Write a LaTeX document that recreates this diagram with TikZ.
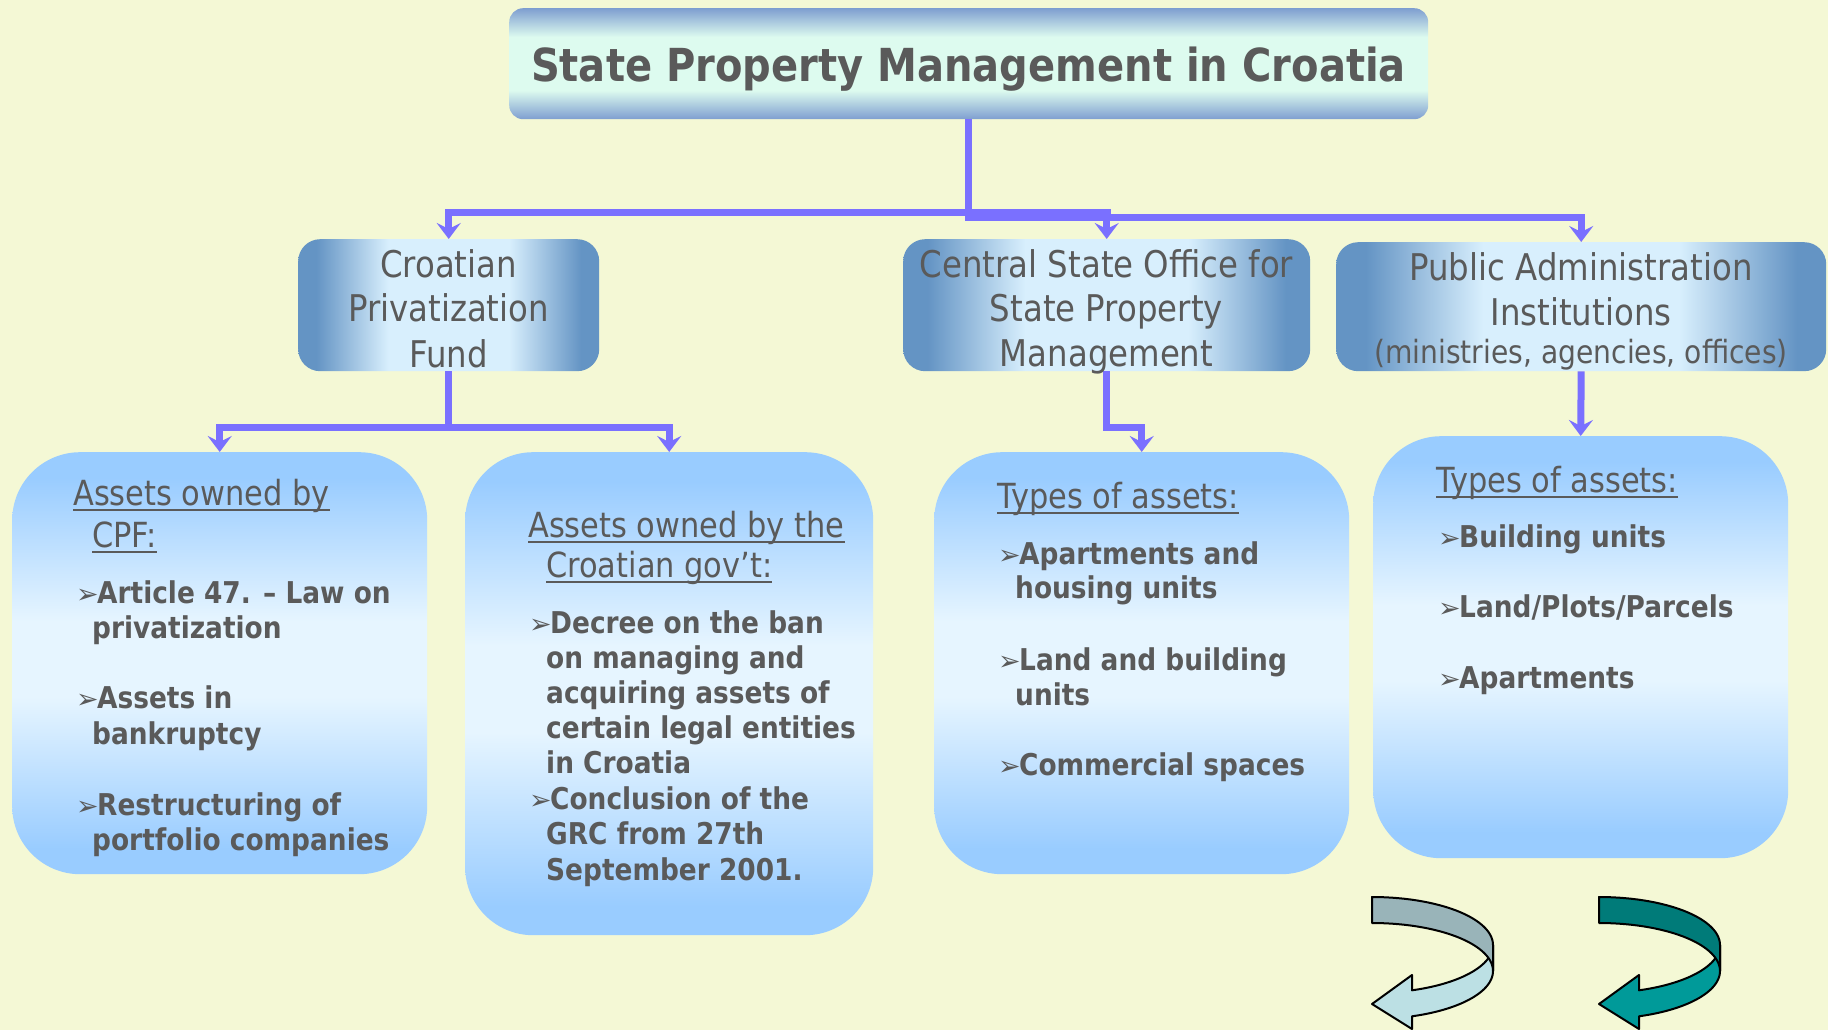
\documentclass[tikz,border=0pt]{standalone}
\usepackage{fontspec}
\setmainfont{DejaVu Sans}[FakeStretch=0.88]
\newfontfamily\dingfont{DejaVu Sans}
\usetikzlibrary{arrows.meta}

\definecolor{bg}{HTML}{F4F8D5}
\definecolor{txt}{HTML}{5A5A5A}
\definecolor{linkblue}{HTML}{7A70FF}
\definecolor{tEdge}{HTML}{7E9ED0}
\definecolor{tMid}{HTML}{DDFBEF}
\definecolor{sEdge}{HTML}{6494C4}
\definecolor{sMid}{HTML}{D8EFFD}
\definecolor{aEdge}{HTML}{99CCFF}
\definecolor{aMid}{HTML}{E6F5FF}
\definecolor{oneBack}{HTML}{99B4B9}
\definecolor{oneFront}{HTML}{BCE0E4}
\definecolor{twoBack}{HTML}{007B79}
\definecolor{twoFront}{HTML}{009A99}

% box shadings
\pgfdeclareverticalshading{titleshade}{100bp}{color(0bp)=(tEdge); color(25bp)=(tEdge); color(38bp)=(tMid); color(62bp)=(tMid); color(75bp)=(tEdge); color(100bp)=(tEdge)}
\pgfdeclarehorizontalshading{officeshade}{100bp}{color(0bp)=(sEdge); color(28bp)=(sEdge); color(40bp)=(sMid); color(60bp)=(sMid); color(72bp)=(sEdge); color(100bp)=(sEdge)}
\pgfdeclareverticalshading{assetshade}{100bp}{color(0bp)=(aEdge); color(28bp)=(aEdge); color(46bp)=(aMid); color(55bp)=(aMid); color(72bp)=(aEdge); color(100bp)=(aEdge)}

% bullet and underlined heading
\newcommand\bul{\makebox[21pt][l]{\dingfont\mdseries\fontsize{27}{27}\selectfont ➢}}
\newcommand\ulhead[1]{\setbox0=\hbox{#1}\rlap{\rule[-6pt]{\wd0}{2.2pt}}\box0}

% ribbon-like U-turn arrow: #1 origin, #2 back colour, #3 front colour
\newcommand\turnarrow[3]{%
  \begin{scope}[shift={#1}]
    \draw[uline, fill=#3] plot[domain=0:70.7,samples=30] ({121*cos(\x)},{48+48*sin(\x)})
      -- (40,78) -- (0,107) -- (40,132)
      -- plot[domain=70.7:0,samples=30] ({121*cos(\x)},{74+48*sin(\x)}) -- cycle;
    \draw[uline, fill=#2] plot[domain=-90:0,samples=30] ({121*cos(\x)},{48+48*sin(\x)})
      -- plot[domain=0:-90,samples=30] ({121*cos(\x)},{74+48*sin(\x)}) -- cycle;
  \end{scope}}

\tikzset{
  titlebox/.style={shading=titleshade, rounded corners=14pt, inner sep=0, anchor=north west},
  officebox/.style={shading=officeshade, rounded corners=22pt, inner sep=0, anchor=north west},
  assetbox/.style={shading=assetshade, rounded corners=68pt, inner sep=0, anchor=north west},
  link/.style={draw=linkblue, line width=7pt},
  tip/.style={-{Stealth[length=16pt,width=24pt,inset=6pt]}},
  lbl/.style={inner sep=0, text=txt, anchor=base},
  titletext/.style={lbl, font=\bfseries\fontsize{45.5}{50}\selectfont},
  office/.style={lbl, font=\fontsize{36.8}{44}\selectfont},
  officesmall/.style={lbl, font=\fontsize{32}{38}\selectfont},
  head/.style={lbl, anchor=base west, font=\fontsize{34.6}{42}\selectfont},
  item/.style={lbl, anchor=base west, font=\bfseries\fontsize{30}{35}\selectfont},
  uline/.style={draw=black, line width=2pt, line join=round}
}

\begin{document}
\begin{tikzpicture}[x=1pt, y=-1pt]
\useasboundingbox (0,0) rectangle (1828,1030);
\fill[bg] (0,0) rectangle (1828,1030);

% boxes
\node[titlebox, minimum width=919pt, minimum height=111pt] (title) at (509,8) {};
\node[officebox, minimum width=301pt, minimum height=132pt] (cpf) at (298,239) {};
\node[officebox, minimum width=407pt, minimum height=132pt] (cso) at (903,239) {};
\node[officebox, minimum width=490pt, minimum height=129pt] (pai) at (1336,242) {};
\node[assetbox, minimum width=415pt, minimum height=422pt] (assetsA) at (12,452) {};
\node[assetbox, minimum width=408pt, minimum height=483pt] (assetsB) at (465,452) {};
\node[assetbox, minimum width=415pt, minimum height=422pt] (assetsC) at (934,452) {};
\node[assetbox, minimum width=415pt, minimum height=422pt] (assetsD) at (1373,436) {};

% connectors
\coordinate (busL) at (1111,212);
\coordinate (busR) at (969,217);
\draw[link, tip] (busL) -| (cpf.north);
\draw[link, tip] (cso.north |- busL) -- (cso.north);
\draw[link, tip] (title.south) -- (title.south |- busR) -| (pai.north);
\draw[link, tip] (cpf.south) -- ++(0,56) -| (assetsA.north);
\draw[link, tip] (cpf.south) -- ++(0,56) -| (assetsB.north);
\draw[link, tip] (cso.south) -- ++(0,56) -| (assetsC.north);
\draw[link, tip] (pai.south) -- (assetsD.north);

% title
\node[titletext] (titleT) at (968.5,82) {State Property Management in Croatia};

% second level
\node[office] (cpf1) at (448.5,277) {Croatian};
\node[office] (cpf2) at (448.5,321) {Privatization};
\node[office] (cpf3) at (448.5,367) {Fund};
\node[office] (cso1) at (1106.5,277) {Central State Office for};
\node[office] (cso2) at (1106.5,321) {State Property};
\node[office] (cso3) at (1106.5,366) {Management};
\node[office] (pai1) at (1581,280) {Public Administration};
\node[office] (pai2) at (1581,325) {Institutions};
\node[officesmall] (pai3) at (1581,363) {(ministries, agencies, offices)};

% assets owned by CPF
\node[head] (a0) at (73,505) {\ulhead{Assets owned by}};
\node[head] (a0b) at (92,547) {\ulhead{CPF:}};
\node[item] (a1) at (76,603) {\bul Article 47. – Law on};
\node[item] (a1b) at (92,638) {privatization};
\node[item] (a2) at (76,708) {\bul Assets in};
\node[item] (a2b) at (92,744) {bankruptcy};
\node[item] (a3) at (76,815) {\bul Restructuring of};
\node[item] (a3b) at (92,850) {portfolio companies};

% assets owned by the government
\node[head] (b0) at (528,537) {\ulhead{Assets owned by the}};
\node[head] (b0b) at (546,577) {\ulhead{Croatian gov’t:}};
\node[item] (b1) at (529,633) {\bul Decree on the ban};
\node[item] (b1b) at (546,668) {on managing and};
\node[item] (b1c) at (546,703) {acquiring assets of};
\node[item] (b1d) at (546,738) {certain legal entities};
\node[item] (b1e) at (546,773) {in Croatia};
\node[item] (b2) at (529,809) {\bul Conclusion of the};
\node[item] (b2b) at (546,844) {GRC from 27th};
\node[item] (b2c) at (546,880) {September 2001.};

% central state office assets
\node[head] (c0) at (997,508) {\ulhead{Types of assets:}};
\node[item] (c1) at (998,564) {\bul Apartments and};
\node[item] (c1b) at (1015,598) {housing units};
\node[item] (c2) at (998,670) {\bul Land and building};
\node[item] (c2b) at (1015,705) {units};
\node[item] (c3) at (998,775) {\bul Commercial spaces};

% public administration assets
\node[head] (d0) at (1436,492) {\ulhead{Types of assets:}};
\node[item] (d1) at (1438,547) {\bul Building units};
\node[item] (d2) at (1438,617) {\bul Land/Plots/Parcels};
\node[item] (d3) at (1438,688) {\bul Apartments};

% U-turn arrows
\turnarrow{(1372,897)}{oneBack}{oneFront}
\turnarrow{(1599,897)}{twoBack}{twoFront}
\end{tikzpicture}
\end{document}
